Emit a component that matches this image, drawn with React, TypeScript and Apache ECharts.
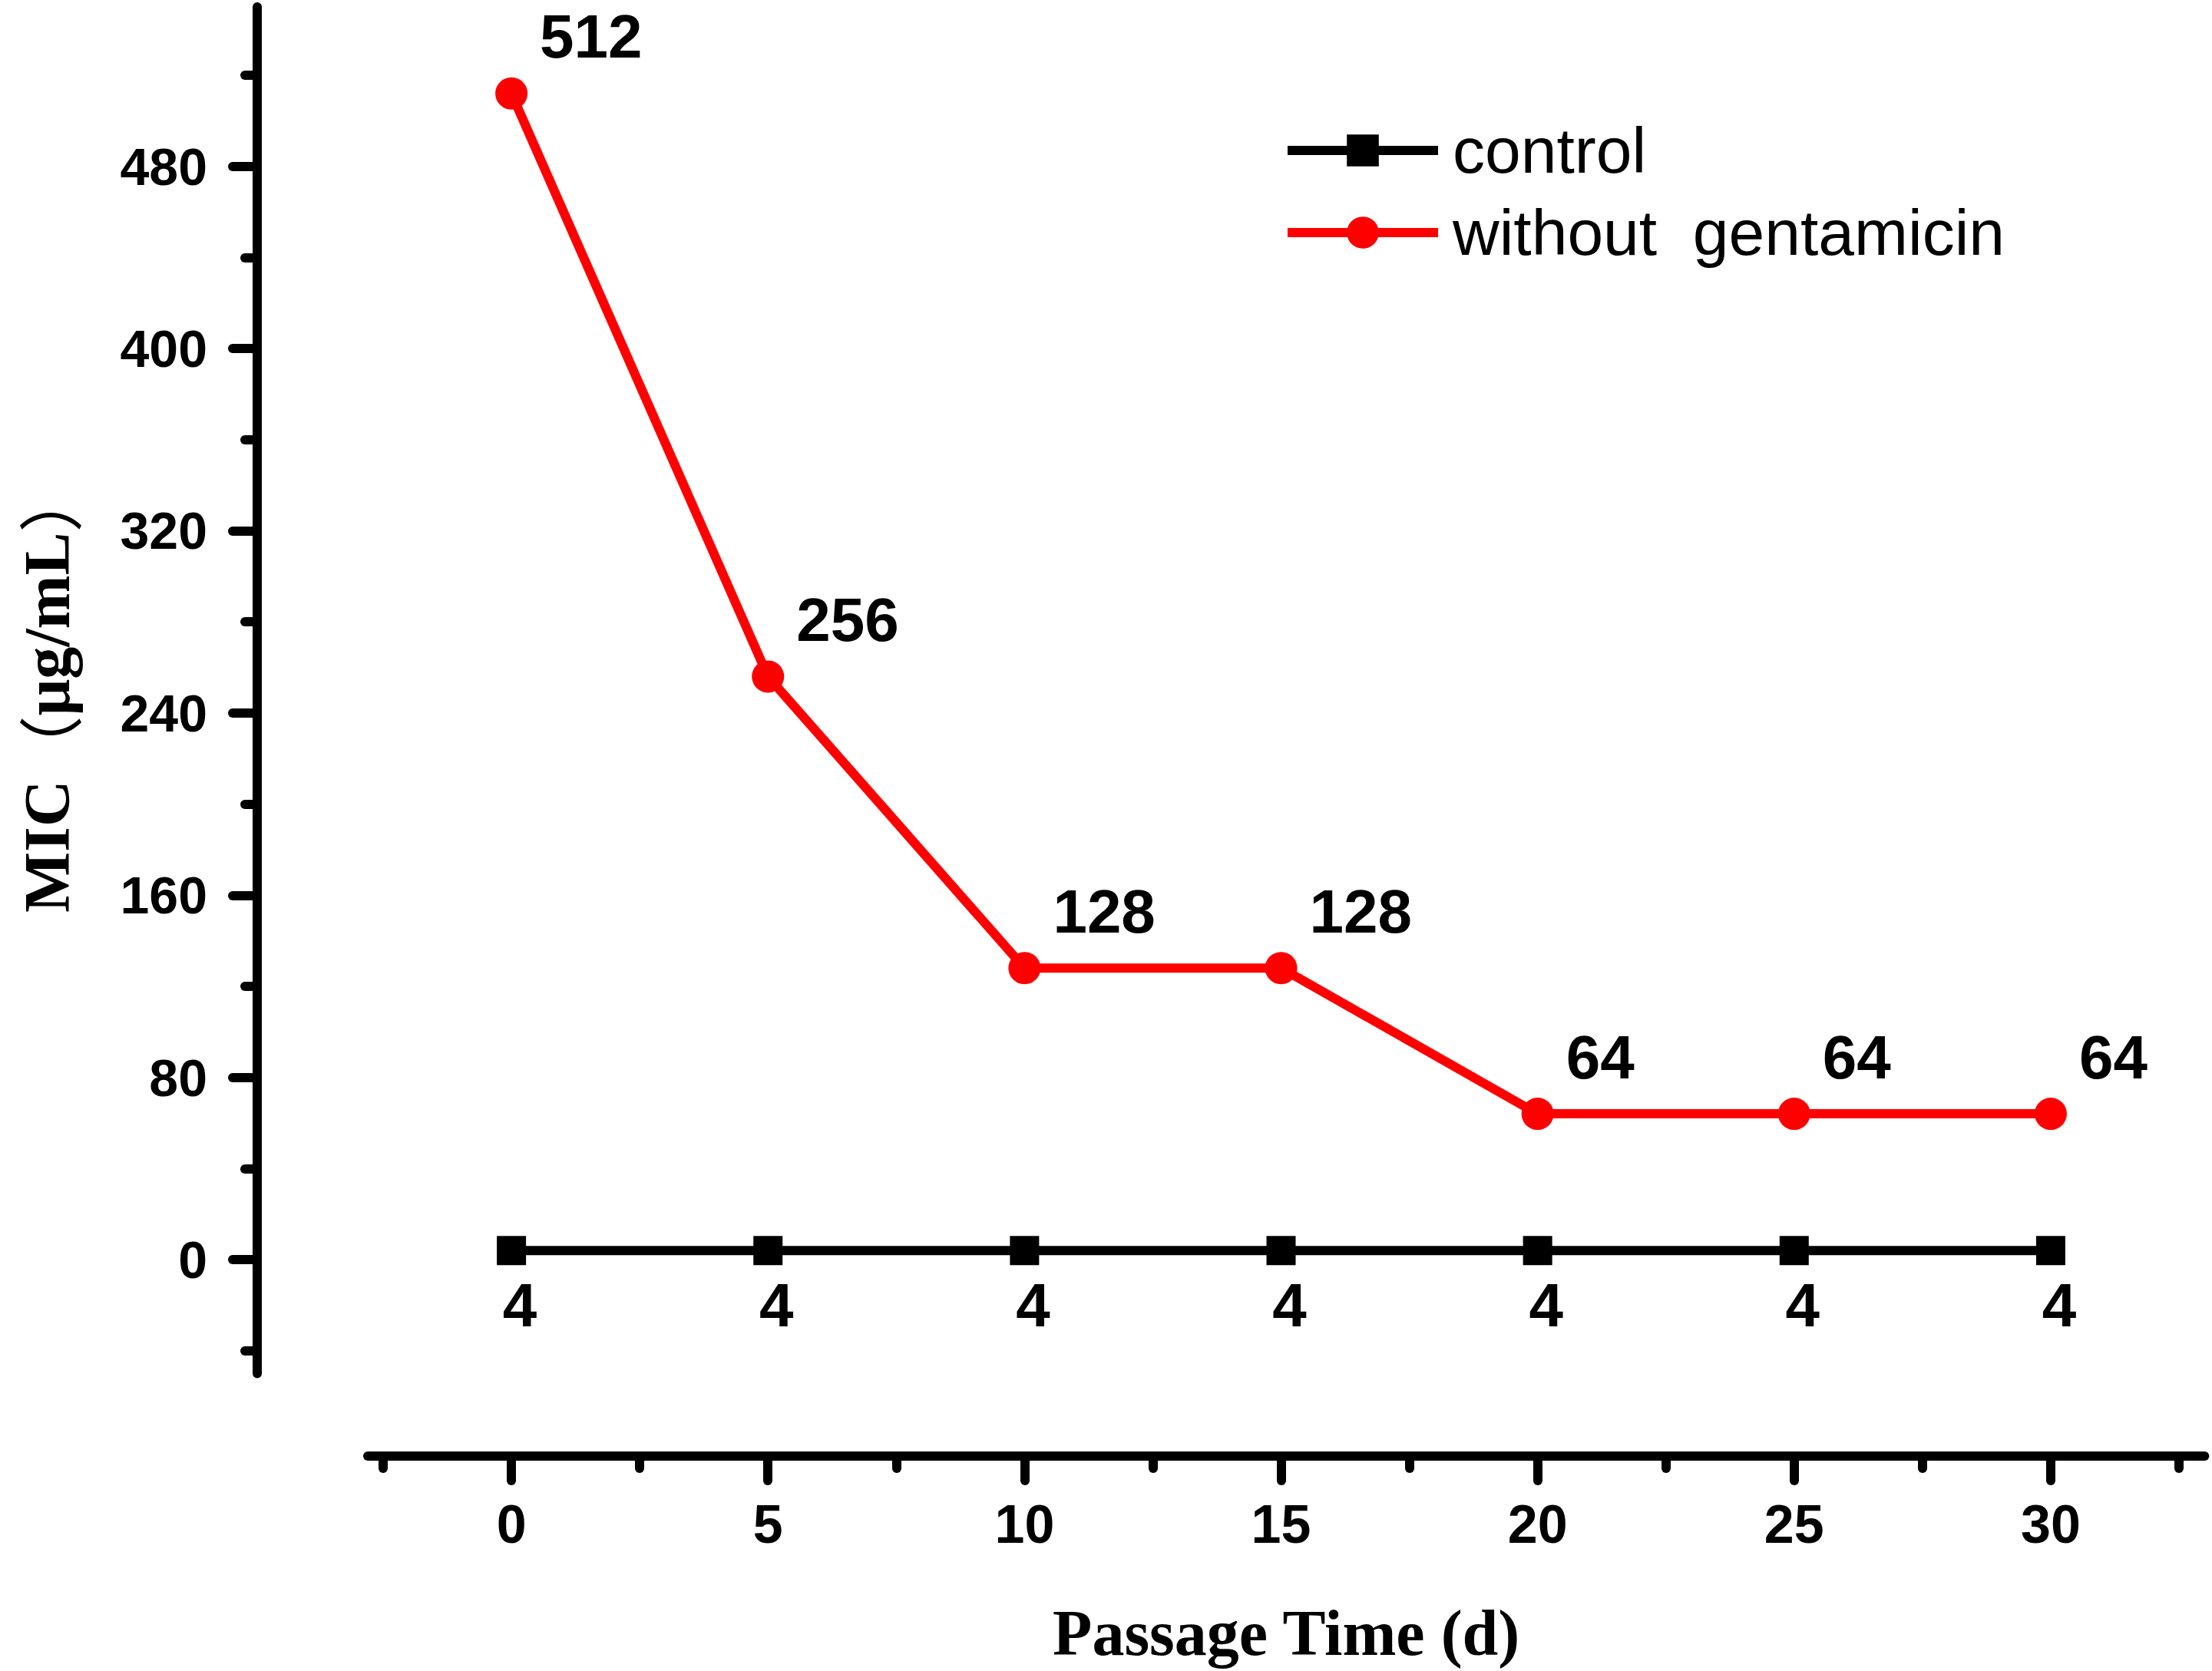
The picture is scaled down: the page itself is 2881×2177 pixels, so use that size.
import React, { useEffect, useRef } from "react";
import * as echarts from "echarts";

const days = [0, 5, 10, 15, 20, 25, 30];
const controlValues = [4, 4, 4, 4, 4, 4, 4];
const withoutValues = [512, 256, 128, 128, 64, 64, 64];
const seriesNames = ["control", "without  gentamicin"];
const yMajorTicks = [0, 80, 160, 240, 320, 400, 480];
const yMinorTicks = [-40, 40, 120, 200, 280, 360, 440, 520];
const xMajorTicks = [0, 5, 10, 15, 20, 25, 30];
const xMinorTicks = [-2.5, 2.5, 7.5, 12.5, 17.5, 22.5, 27.5, 32.5];

const SANS = "'Liberation Sans', Arial, sans-serif";
const SERIF = "'Liberation Serif', 'Noto Sans CJK SC', serif";
const CJK = "'Noto Sans CJK SC', 'Noto Sans CJK JP', sans-serif";

export default function App() {
  const ref = useRef<HTMLDivElement>(null);
  useEffect(() => {
    document.body.style.margin = "0";
    if (!ref.current) return;
    const chart = echarts.init(ref.current, null, { renderer: "svg" });
    const lineStyleAxis = { color: "#000", width: 12, cap: "round" as const };
    const yCommon = {
      type: "value" as const,
      min: -50,
      max: 550,
      position: "left" as const,
      offset: 144,
      splitLine: { show: false },
    };
    const xCommon = {
      type: "value" as const,
      min: -2.8,
      max: 33,
      position: "bottom" as const,
      offset: 107.6,
      splitLine: { show: false },
    };
    chart.setOption({
      animation: false,
      backgroundColor: "#fff",
      grid: { left: 479, right: 9.6, top: 9, bottom: 387.6, containLabel: false },
      legend: {
        orient: "vertical",
        left: 1666,
        top: 149,
        itemWidth: 196,
        itemHeight: 52,
        itemGap: 23,
        data: seriesNames,
        lineStyle: { width: 12 },
        textStyle: {
          fontFamily: SANS,
          fontSize: 84,
          color: "#000",
          lineHeight: 84,
          padding: [0, 0, 0, 14],
        },
      },
      xAxis: [
        {
          ...xCommon,
          name: "Passage Time (d)",
          nameLocation: "middle",
          nameGap: 188,
          nameTextStyle: { fontFamily: SERIF, fontWeight: "bold", fontSize: 84, color: "#000" },
          axisLine: { show: true, onZero: false, lineStyle: lineStyleAxis },
          axisTick: { show: true, customValues: xMajorTicks, length: 32, lineStyle: lineStyleAxis },
          axisLabel: {
            customValues: xMajorTicks,
            margin: 54,
            fontFamily: SANS,
            fontWeight: "bold",
            fontSize: 70,
            color: "#000",
          },
        },
        {
          ...xCommon,
          axisLine: { show: false, onZero: false },
          axisTick: { show: true, customValues: xMinorTicks, length: 16, lineStyle: lineStyleAxis },
          axisLabel: { show: false },
        },
      ],
      yAxis: [
        {
          ...yCommon,
          name: "MIC{p|（}μg/mL{p|）}",
          nameLocation: "middle",
          nameGap: 232,
          nameRotate: 90,
          nameTextStyle: {
            fontFamily: SERIF,
            fontWeight: "bold",
            fontSize: 84,
            lineHeight: 84,
            color: "#000",
            rich: {
              p: { fontFamily: CJK, fontWeight: "normal", fontSize: 84, lineHeight: 84, color: "#000" },
            },
          },
          axisLine: { show: true, onZero: false, lineStyle: lineStyleAxis },
          axisTick: { show: true, customValues: yMajorTicks, length: 32, lineStyle: lineStyleAxis },
          axisLabel: {
            customValues: yMajorTicks,
            margin: 65,
            fontFamily: SANS,
            fontWeight: "bold",
            fontSize: 68,
            color: "#000",
          },
        },
        {
          ...yCommon,
          axisLine: { show: false, onZero: false },
          axisTick: { show: true, customValues: yMinorTicks, length: 16, lineStyle: lineStyleAxis },
          axisLabel: { show: false },
        },
      ],
      series: [
        {
          name: seriesNames[0],
          type: "line",
          xAxisIndex: 0,
          yAxisIndex: 0,
          data: days.map((d, i) => [d, controlValues[i]]),
          symbol: "rect",
          symbolSize: 38,
          itemStyle: { color: "#000" },
          lineStyle: { color: "#000", width: 12 },
          label: {
            show: true,
            position: "inside",
            offset: [11, 71],
            lineHeight: 56,
            formatter: (p: any) => String(p.value[1]),
            fontFamily: SANS,
            fontWeight: "bold",
            fontSize: 80,
            color: "#000",
          },
        },
        {
          name: seriesNames[1],
          type: "line",
          xAxisIndex: 0,
          yAxisIndex: 0,
          data: days.map((d, i) => [d, withoutValues[i]]),
          symbol: "circle",
          symbolSize: 42,
          itemStyle: { color: "#ff0000" },
          lineStyle: { color: "#ff0000", width: 12 },
          label: {
            show: true,
            position: "inside",
            align: "left",
            offset: [37, -74],
            lineHeight: 56,
            formatter: (p: any) => String(p.value[1]),
            fontFamily: SANS,
            fontWeight: "bold",
            fontSize: 80,
            color: "#000",
          },
        },
      ],
    });
    return () => chart.dispose();
  }, []);
  return <div ref={ref} style={{ width: 2881, height: 2177 }} />;
}
